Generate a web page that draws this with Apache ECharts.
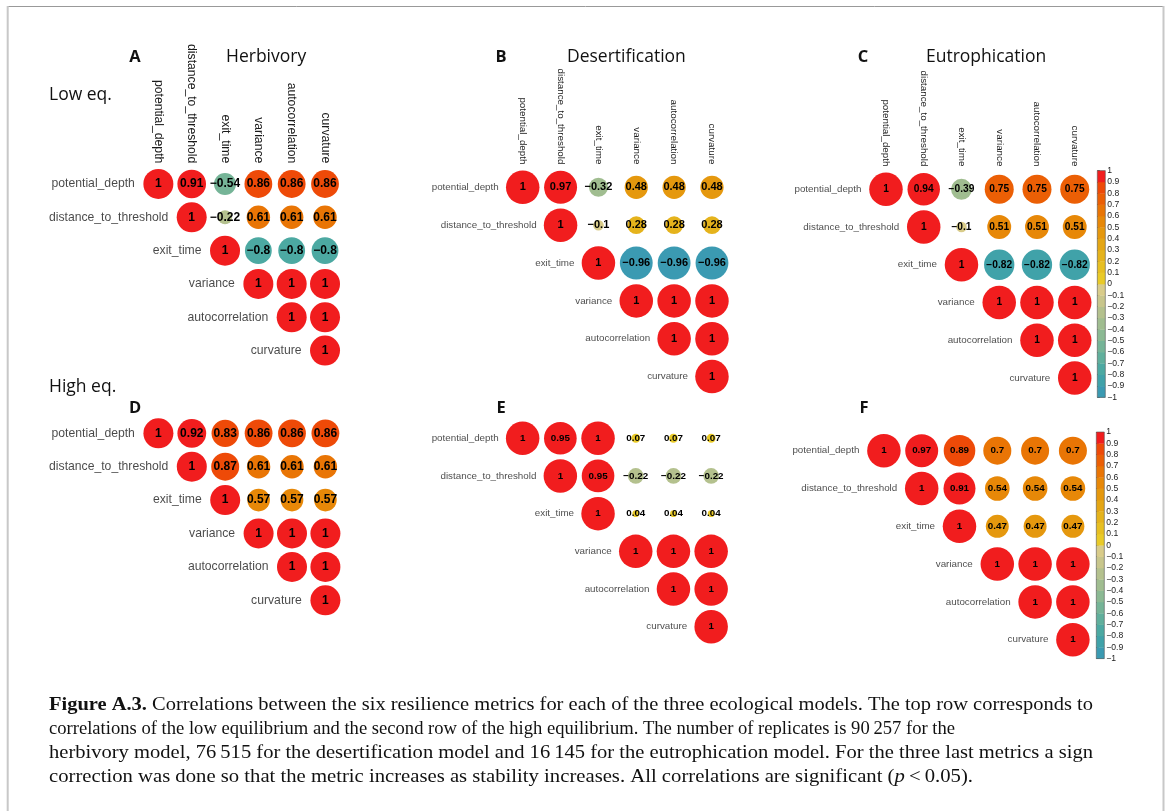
<!DOCTYPE html>
<html><head><meta charset="utf-8">
<script src="https://cdn.jsdelivr.net/npm/echarts@6.0.0/dist/echarts.min.js"></script>
<style>html,body{margin:0;padding:0;background:#fff}#c{width:1167px;height:811px}</style>
</head><body><div id="c"></div>
<script>
// ---------- data ----------
const metrics = ["potential_depth", "distance_to_threshold", "exit_time", "variance", "autocorrelation", "curvature"];

// upper-triangle rows: row r starts at column r
const herbivoryLow = [
  [1, 0.91, -0.54, 0.86, 0.86, 0.86],
  [1, -0.22, 0.61, 0.61, 0.61],
  [1, -0.8, -0.8, -0.8],
  [1, 1, 1],
  [1, 1],
  [1]
];
const desertificationLow = [
  [1, 0.97, -0.32, 0.48, 0.48, 0.48],
  [1, -0.1, 0.28, 0.28, 0.28],
  [1, -0.96, -0.96, -0.96],
  [1, 1, 1],
  [1, 1],
  [1]
];
const eutrophicationLow = [
  [1, 0.94, -0.39, 0.75, 0.75, 0.75],
  [1, -0.1, 0.51, 0.51, 0.51],
  [1, -0.82, -0.82, -0.82],
  [1, 1, 1],
  [1, 1],
  [1]
];
const herbivoryHigh = [
  [1, 0.92, 0.83, 0.86, 0.86, 0.86],
  [1, 0.87, 0.61, 0.61, 0.61],
  [1, 0.57, 0.57, 0.57],
  [1, 1, 1],
  [1, 1],
  [1]
];
const desertificationHigh = [
  [1, 0.95, 1, 0.07, 0.07, 0.07],
  [1, 0.95, -0.22, -0.22, -0.22],
  [1, 0.04, 0.04, 0.04],
  [1, 1, 1],
  [1, 1],
  [1]
];
const eutrophicationHigh = [
  [1, 0.97, 0.89, 0.7, 0.7, 0.7],
  [1, 0.91, 0.54, 0.54, 0.54],
  [1, 0.47, 0.47, 0.47],
  [1, 1, 1],
  [1, 1],
  [1]
];

const colorbarBreaks = [-1, -0.9, -0.8, -0.7, -0.6, -0.5, -0.4, -0.3, -0.2, -0.1, 0, 0.1, 0.2, 0.3, 0.4, 0.5, 0.6, 0.7, 0.8, 0.9, 1];
const colorbarColors = ["#3B9AB2", "#40A2A9", "#4CA9A2", "#60AF9C", "#75B497", "#8BB993", "#A0BD90", "#B4C18E", "#C8C68C", "#D9CC8A",
  "#E9CA28", "#E7BF22", "#E5B31C", "#E4A615", "#E5980E", "#E78808", "#E97505", "#EB5F05", "#EE4A08", "#F11D1E"];

const panelTitles = ["Herbivory", "Desertification", "Eutrophication"];
const panelLetters = ["A", "B", "C", "D", "E", "F"];
const rowTitles = ["Low eq.", "High eq."];
// caption lines as [text, style] segments
const captionLines = [
  [["Figure A.3.", "b"], [" Correlations between the six resilience metrics for each of the three ecological models. The top row corresponds to", "n"]],
  [["correlations of the low equilibrium and the second row of the high equilibrium. The number of replicates is 90\u2009257 for the", "n"]],
  [["herbivory model, 76\u2009515 for the desertification model and 16\u2009145 for the eutrophication model. For the three last metrics a sign", "n"]],
  [["correction was done so that the metric increases as stability increases. All correlations are significant (", "n"], ["p", "i"], ["\u2009<\u20090.05).", "n"]]
];

// ---------- layout ----------
const matrices = [herbivoryLow, desertificationLow, eutrophicationLow, herbivoryHigh, desertificationHigh, eutrophicationHigh];
const layout = [
  {left: 141.7, top: 167.3, cell: 33.33, axisFont: 12.2, numFont: 12, maxD: 30, dist: 23, cols: true},
  {left: 503.8, top: 168.4, cell: 37.85, axisFont: 9.8, numFont: 11, maxD: 33.5, dist: 23.5, cols: true},
  {left: 867.1, top: 170.4, cell: 37.75, axisFont: 9.8, numFont: 10.2, maxD: 33.5, dist: 24, cols: true},
  {left: 141.7, top: 416.6, cell: 33.4, axisFont: 12.2, numFont: 12, maxD: 30, dist: 23, cols: false},
  {left: 503.8, top: 419.4, cell: 37.7, axisFont: 9.8, numFont: 9.8, maxD: 33.5, dist: 23.5, cols: false},
  {left: 865.0, top: 431.8, cell: 37.8, axisFont: 9.8, numFont: 9.8, maxD: 33.5, dist: 24, cols: false}
];
const colorbars = [
  {left: 1097.3, top: 170.6, height: 226.8},
  {left: 1096.3, top: 432.0, height: 226.6}
];

const FONT = "Liberation Sans";
const fmtVal = v => (v < 0 ? "\u2212" : "") + String(Math.abs(v));
const fmtTick = v => {
  const r = Math.round(v * 10) / 10;
  if (r === 0) return "0";
  return (r < 0 ? "\u2212" : "") + String(Math.abs(r));
};

const grid = [], xAxis = [], yAxis = [], series = [];
const scatterIdx = [];

matrices.forEach((rows, i) => {
  const L = layout[i];
  grid.push({left: L.left, top: L.top, width: L.cell * 6, height: L.cell * 6});
  xAxis.push({
    gridIndex: i, type: "category", data: metrics, position: "top", boundaryGap: true,
    axisLine: {show: false}, axisTick: {show: false}, splitLine: {show: false},
    axisLabel: {show: L.cols, rotate: 90, interval: 0, margin: 4, fontSize: L.axisFont, fontFamily: FONT, color: "#1a1a1a"}
  });
  yAxis.push({gridIndex: i, type: "category", data: metrics, inverse: true, show: false});

  const data = [];
  rows.forEach((row, r) => row.forEach((v, k) => data.push([r + k, r, v])));
  scatterIdx.push(series.length);
  series.push({
    type: "scatter", xAxisIndex: i, yAxisIndex: i, data: data, silent: true,
    symbol: "circle",
    symbolSize: val => L.maxD * Math.sqrt(Math.abs(val[2])),
    itemStyle: {opacity: 1},
    label: {show: true, position: "inside", formatter: p => fmtVal(p.value[2]),
      fontFamily: FONT, fontWeight: "bold", fontSize: L.numFont, color: "#000"},
    z: 3
  });
  // row labels, placed left of the diagonal cell
  series.push({
    type: "scatter", xAxisIndex: i, yAxisIndex: i, silent: true, symbolSize: 1,
    itemStyle: {color: "rgba(0,0,0,0)"},
    data: metrics.map((m, r) => ({value: [r, r], name: m})),
    label: {show: true, position: "left", distance: L.dist, formatter: "{b}",
      fontFamily: FONT, fontSize: L.axisFont, color: "#1a1a1a"},
    z: 4
  });
});

// colour bars
colorbars.forEach((cb, j) => {
  const gi = 6 + j;
  grid.push({left: cb.left, top: cb.top, width: 8, height: cb.height, show: true,
    borderColor: "#555", borderWidth: 0.6, backgroundColor: "transparent", z: 5});
  xAxis.push({gridIndex: gi, type: "value", min: 0, max: 1, show: false});
  yAxis.push({gridIndex: gi, type: "value", min: -1, max: 1, interval: 0.1, position: "right",
    axisLine: {show: false}, splitLine: {show: false},
    axisTick: {show: true, length: 2.5, lineStyle: {color: "#333", width: 0.7}},
    axisLabel: {fontSize: 8.6, margin: 2, color: "#222", fontFamily: FONT, formatter: fmtTick,
      showMinLabel: true, showMaxLabel: true}
  });
  const bins = [];
  for (let k = 0; k < colorbarBreaks.length - 1; k++) bins.push([0, colorbarBreaks[k], colorbarBreaks[k + 1], k]);
  series.push({
    type: "custom", xAxisIndex: gi, yAxisIndex: gi, data: bins, silent: true,
    encode: {x: 0, y: [1, 2]},
    renderItem: (params, api) => {
      const lo = api.coord([0, api.value(1)]);
      const hi = api.coord([1, api.value(2)]);
      return {type: "rect", shape: {x: lo[0], y: hi[1], width: hi[0] - lo[0], height: lo[1] - hi[1] + 0.3},
        style: {fill: colorbarColors[api.value(3)]}};
    }
  });
});

// visual map: 20 colour bins
const pieces = [];
for (let k = 0; k < colorbarBreaks.length - 1; k++) {
  const lo = colorbarBreaks[k], hi = colorbarBreaks[k + 1];
  if (hi <= 0) pieces.push({gte: lo - 1e-9, lt: hi - 1e-9, color: colorbarColors[k]});
  else pieces.push({gt: lo + 1e-9, lte: hi + 1e-9, color: colorbarColors[k]});
}

// texts
const TF = "Open Sans";
const graphic = [
  {type: "line", shape: {x1: 7, y1: 6.5, x2: 1164, y2: 6.5}, style: {stroke: "#999", lineWidth: 1}},
  {type: "line", shape: {x1: 7.7, y1: 6, x2: 7.7, y2: 811}, style: {stroke: "#c8c8c8", lineWidth: 2}},
  {type: "line", shape: {x1: 1163.5, y1: 6, x2: 1163.5, y2: 811}, style: {stroke: "#c8c8c8", lineWidth: 2}}
];
const titlePos = [{lx: 135, tx: 226}, {lx: 501, tx: 567}, {lx: 863, tx: 926}];
titlePos.forEach((p, j) => {
  graphic.push({type: "text", style: {x: p.lx, y: 57, text: panelLetters[j], font: "bold 16.5px '" + TF + "'", fill: "#111", textAlign: "center", textVerticalAlign: "middle"}});
  graphic.push({type: "text", style: {x: p.tx, y: 57, text: panelTitles[j], font: "17.5px '" + TF + "'", fill: "#111", textAlign: "left", textVerticalAlign: "middle"}});
});
const lowerLetterPos = [{x: 135, y: 408}, {x: 501, y: 408}, {x: 864, y: 408}];
lowerLetterPos.forEach((p, j) => {
  graphic.push({type: "text", style: {x: p.x, y: p.y, text: panelLetters[3 + j], font: "bold 16.5px '" + TF + "'", fill: "#111", textAlign: "center", textVerticalAlign: "middle"}});
});
graphic.push({type: "text", style: {x: 49, y: 95, text: rowTitles[0], font: "17.5px '" + TF + "'", fill: "#111", textVerticalAlign: "middle"}});
graphic.push({type: "text", style: {x: 49, y: 387, text: rowTitles[1], font: "17.5px '" + TF + "'", fill: "#111", textVerticalAlign: "middle"}});

// caption: measure natural width and stretch each line to the reference line end
const CAP_SIZE = 18.8;
const capY = [705, 729, 753, 777];
const capEnd = [1093, 955, 1093, 973];
const capX = 49;
const segFont = {
  n: CAP_SIZE + "px 'Liberation Serif'",
  b: "bold " + CAP_SIZE + "px 'Liberation Serif'",
  i: "italic " + CAP_SIZE + "px 'Liberation Serif'"
};
const mctx = document.createElement("canvas").getContext("2d");
captionLines.forEach((segs, j) => {
  let w = 0, text = "";
  segs.forEach(([t, s]) => {
    mctx.font = segFont[s]; w += mctx.measureText(t).width;
    text += (s === "n") ? t : "{" + s + "|" + t + "}";
  });
  const sx = (capEnd[j] - capX) / w;
  graphic.push({type: "text", x: capX, y: capY[j], scaleX: sx,
    style: {x: 0, y: 0, text: text, fontFamily: "Liberation Serif", fontSize: CAP_SIZE, fill: "#111",
      textVerticalAlign: "middle",
      rich: {b: {fontFamily: "Liberation Serif", fontSize: CAP_SIZE, fontWeight: "bold", fill: "#111"},
             i: {fontFamily: "Liberation Serif", fontSize: CAP_SIZE, fontStyle: "italic", fill: "#111"}}}});
});

const chart = echarts.init(document.getElementById("c"), null, {renderer: "canvas"});
chart.setOption({
  animation: false,
  backgroundColor: "#fff",
  grid, xAxis, yAxis, series,
  visualMap: {type: "piecewise", show: false, dimension: 2, seriesIndex: scatterIdx, pieces: pieces},
  graphic: graphic
});
</script></body></html>
